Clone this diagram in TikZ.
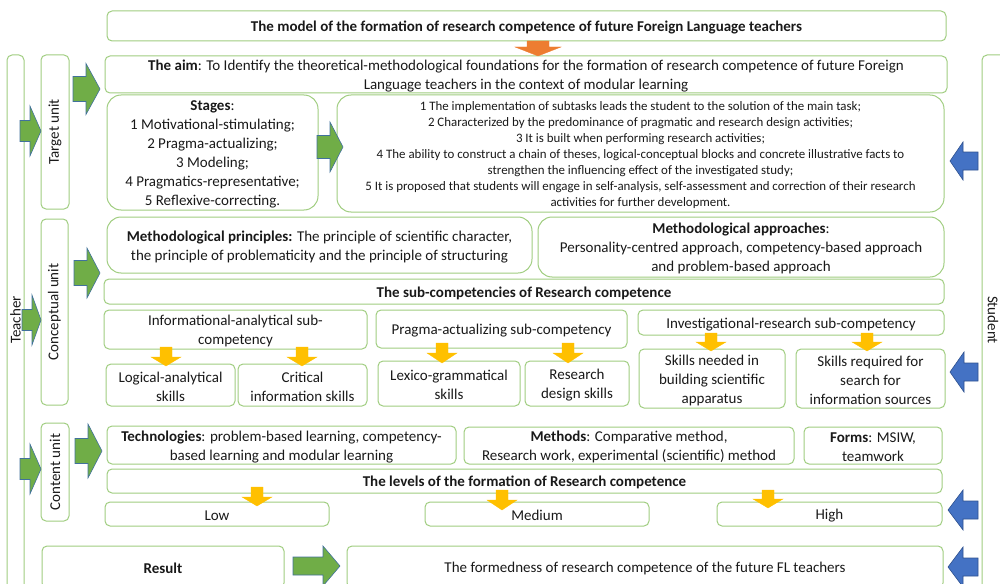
\documentclass[tikz,border=0pt]{standalone}
\usepackage{fontspec}
\setmainfont{Carlito}
\definecolor{bgreen}{RGB}{160,205,128}
\definecolor{agreen}{RGB}{112,173,71}
\definecolor{aedge}{RGB}{65,113,156}
\definecolor{ablue}{RGB}{68,114,196}
\definecolor{bedge}{RGB}{47,82,143}
\definecolor{ayellow}{RGB}{255,192,0}
\definecolor{aorange}{RGB}{237,125,49}
\definecolor{txt}{RGB}{25,25,25}
% horizontal block arrow: style, tail x, head-base x, tip x, centre y, shaft half, head half
\newcommand\harrow[7]{\filldraw[#1] ({#2},{#5-#6}) -- ({#3},{#5-#6}) -- ({#3},{#5-#7}) -- ({#4},{#5}) -- ({#3},{#5+#7}) -- ({#3},{#5+#6}) -- ({#2},{#5+#6}) -- cycle;}
% vertical block arrow: style, tail y, head-base y, tip y, centre x, shaft half, head half
\newcommand\varrow[7]{\filldraw[#1] ({#5-#6},{#2}) -- ({#5-#6},{#3}) -- ({#5-#7},{#3}) -- ({#5},{#4}) -- ({#5+#7},{#3}) -- ({#5+#6},{#3}) -- ({#5+#6},{#2}) -- cycle;}
% box from corners: name, x1, y1, x2, y2, extra style, text
\newcommand\bx[7]{\node[box,#6,minimum width={#4-#2},minimum height={#5-#3}] (#1) at ({(#2+#4)/2},{(#3+#5)/2}) {};
  \node[boxtext,#6] (#1-t) at ([yshift=-1.6pt]#1.center) {#7};}
\tikzset{
  box/.style={draw=bgreen, line width=1pt, rounded corners=5pt, inner sep=0pt},
  boxtext/.style={align=center, inner sep=0pt, text=txt, font=\fontsize{15}{19}\selectfont},
  bigr/.style={rounded corners=14pt},
  small/.style={font=\fontsize{12.9}{16}\selectfont},
  hdr/.style={font=\fontsize{15}{18}\selectfont\bfseries},
  garrow/.style={fill=agreen, draw=aedge, line width=0.6pt},
  barrow/.style={fill=ablue, draw=bedge, line width=0.6pt},
  yarrow/.style={fill=ayellow, draw=ayellow, line width=0.3pt},
  oarrow/.style={fill=aorange, draw=aorange, line width=0.3pt},
  vlabel/.style={text=txt, font=\fontsize{15}{19}\selectfont, inner sep=0pt}
}
\begin{document}
\begin{tikzpicture}[x=1pt,y=-1pt]
\useasboundingbox (0,0) rectangle (1000,583);
% side strips
\bx{teacher}{7}{55}{24}{600}{}{}
\bx{student}{982}{55}{1015}{600}{}{}
\node[vlabel,rotate=90] (teacherlbl) at (15.5,320) {Teacher};
\node[vlabel,rotate=-90] (studentlbl) at (993,320) {Student};
% title
\bx{title}{107}{11}{946}{41}{hdr}{The model of the formation of research competence of future Foreign Language teachers}
% units
\bx{target}{41}{55}{69}{209}{}{}
\node[vlabel,rotate=90] (targetlbl) at (55,132) {Target unit};
\bx{concept}{41}{219}{68}{405}{}{}
\node[vlabel,rotate=90] (conceptlbl) at (54.5,312) {Conceptual unit};
\bx{content}{41}{423}{69}{521}{}{}
\node[vlabel,rotate=90] (contentlbl) at (55,472) {Content unit};
% target unit
\bx{aim}{105}{56}{947}{93}{}{\textbf{The aim}: To Identify the theoretical-methodological foundations for the formation of research competence of future Foreign\\Language teachers in the context of modular learning}
\bx{stages}{107}{95}{318}{210}{bigr}{\textbf{Stages}:\\1 Motivational-stimulating;\\2 Pragma-actualizing;\\3 Modeling;\\4 Pragmatics-representative;\\5 Reflexive-correcting.}
\bx{desc}{337}{95}{944}{212}{bigr,small}{1 The implementation of subtasks leads the student to the solution of the main task;\\2 Characterized by the predominance of pragmatic and research design activities;\\3 It is built when performing research activities;\\4 The ability to construct a chain of theses, logical-conceptual blocks and concrete illustrative facts to\\strengthen the influencing effect of the investigated study;\\5 It is proposed that students will engage in self-analysis, self-assessment and correction of their research\\activities for further development.}
% conceptual unit
\bx{princ}{107}{217}{532}{273}{bigr}{\textbf{Methodological principles:} The principle of scientific character,\\the principle of problematicity and the principle of structuring}
\bx{appr}{538}{217}{944}{277}{bigr}{\textbf{Methodological approaches}:\\Personality-centred approach, competency-based approach\\and problem-based approach}
\bx{subhdr}{104}{279}{944}{304}{hdr}{The sub-competencies of Research competence}
\bx{info}{104}{310}{367}{349}{}{Informational-analytical sub-\\competency}
\bx{pragma}{376}{310}{627}{348}{}{Pragma-actualizing sub-competency}
\bx{invest}{638}{310}{944}{335}{}{Investigational-research sub-competency}
\bx{logic}{106}{364}{235}{406}{}{Logical-analytical\\skills}
\bx{crit}{238}{364}{367}{406}{}{Critical\\information skills}
\bx{lexico}{378}{361}{520}{406}{}{Lexico-grammatical\\skills}
\bx{rdesign}{525}{361}{629}{406}{}{Research\\design skills}
\bx{sneed}{639}{349}{785}{408}{}{Skills needed in\\building scientific\\apparatus}
\bx{sreq}{796}{349}{945}{408}{}{Skills required for\\search for\\information sources}
% content unit
\bx{tech}{107}{426}{456}{464}{}{\textbf{Technologies}: problem-based learning, competency-\\based learning and modular learning}
\bx{meth}{464}{427}{794}{464}{}{\textbf{Methods}: Comparative method,\\Research work, experimental (scientific) method}
\bx{forms}{804}{427}{942}{464}{}{\textbf{Forms}: MSIW,\\teamwork}
\bx{levhdr}{107}{469}{942}{493}{hdr}{The levels of the formation of Research competence}
\bx{low}{105}{502}{329}{526}{}{Low}
\bx{medium}{425}{502}{649}{526}{}{Medium}
\bx{high}{717}{502}{942}{526}{}{High}
% result
\bx{result}{42}{546}{284}{588}{}{\textbf{Result}}
\bx{formed}{347}{546}{943}{588}{}{The formedness of research competence of the future FL teachers}
% orange arrow
\varrow{oarrow}{41}{47}{56}{538}{11}{23}
% teacher arrows
\harrow{garrow}{20}{30}{41}{131}{10.5}{25}
\harrow{garrow}{22}{32}{41}{320}{10.5}{25}
\harrow{garrow}{20}{30}{41}{469}{10.5}{25}
% unit arrows
\harrow{garrow}{73}{86}{100}{89}{12.5}{25.5}
\harrow{garrow}{74}{87}{100}{273}{12.5}{25}
\harrow{garrow}{75}{88}{102}{451}{12.5}{27}
\harrow{garrow}{317}{330}{343}{147}{11.5}{25}
\harrow{garrow}{293}{323}{340}{566}{9}{20}
% student arrows
\harrow{barrow}{978}{963}{950}{161}{9}{19}
\harrow{barrow}{978}{964}{950}{372}{9}{20}
\harrow{barrow}{978}{963}{948}{510}{9}{20}
\harrow{barrow}{978}{963}{948}{567}{9}{20}
% yellow arrows
\varrow{yarrow}{347}{357}{366}{166}{6}{15}
\varrow{yarrow}{347}{357}{366}{302}{6}{15}
\varrow{yarrow}{343}{353}{363}{442}{6}{15}
\varrow{yarrow}{343}{353}{363}{568}{6}{15}
\varrow{yarrow}{333}{342}{351}{711}{6}{15}
\varrow{yarrow}{333}{342}{351}{867}{6}{15}
\varrow{yarrow}{487}{497}{506}{257}{6}{15}
\varrow{yarrow}{490}{500}{510}{502}{6}{15}
\varrow{yarrow}{490}{499}{508}{768}{6}{15}
\end{tikzpicture}
\end{document}
